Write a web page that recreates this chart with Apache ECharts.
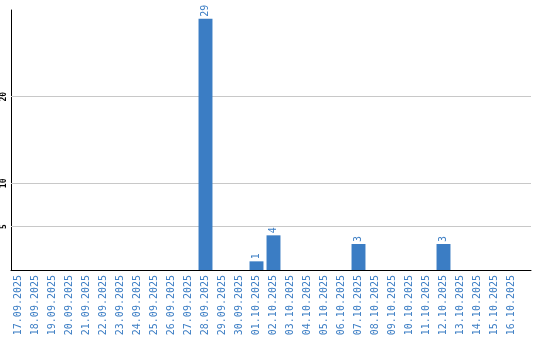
<!DOCTYPE html>
<html>
<head>
<meta charset="utf-8">
<script src="https://cdn.jsdelivr.net/npm/echarts@6/dist/echarts.min.js"></script>
<style>html,body{margin:0;padding:0;background:#fff}#c{width:540px;height:340px}</style>
</head>
<body>
<div id="c"></div>
<script>
const categories = ["17.09.2025","18.09.2025","19.09.2025","20.09.2025","21.09.2025","22.09.2025","23.09.2025","24.09.2025","25.09.2025","26.09.2025","27.09.2025","28.09.2025","29.09.2025","30.09.2025","01.10.2025","02.10.2025","03.10.2025","04.10.2025","05.10.2025","06.10.2025","07.10.2025","08.10.2025","09.10.2025","10.10.2025","11.10.2025","12.10.2025","13.10.2025","14.10.2025","15.10.2025","16.10.2025"];
const values = [0,0,0,0,0,0,0,0,0,0,0,29,0,0,1,4,0,0,0,0,3,0,0,0,0,3,0,0,0,0];
const yTickLabels = [5,10,20];
const gridValues = [5,10,20];

const blue = '#3b7dc4';
const chart = echarts.init(document.getElementById('c'), null, {renderer:'canvas'});
chart.setOption({
  animation:false,
  grid:[
    {left:10, top:10, width:510, height:260},
    {left:10, top:10, width:521, height:260}
  ],
  xAxis:[
    {gridIndex:0, type:'category', data:categories,
     axisLine:{show:false}, axisTick:{show:false},
     axisLabel:{rotate:90, margin:5, fontSize:10, fontFamily:'DejaVu Sans Mono', color:blue, interval:0}},
    {gridIndex:1, type:'value', min:0, max:1,
     axisLine:{show:true, lineStyle:{color:'#000', width:1}}, axisTick:{show:false},
     axisLabel:{show:false}, splitLine:{show:false}}
  ],
  yAxis:[
    {gridIndex:0, type:'value', min:0, max:30, show:false, splitLine:{show:false}},
    {gridIndex:1, type:'value', min:0, max:30, interval:5,
     axisLine:{show:true, lineStyle:{color:'#000', width:1}}, axisTick:{show:false},
     splitLine:{show:false},
     axisLabel:{rotate:90, margin:3, fontSize:8, fontWeight:'bold', fontFamily:'DejaVu Sans Mono', color:'#000',
       formatter:v => yTickLabels.indexOf(v) >= 0 ? String(v) : ''}}
  ],
  series:[
    {type:'line', xAxisIndex:1, yAxisIndex:1, data:[[0,0]], showSymbol:false, lineStyle:{opacity:0}, silent:true, z:1,
     markLine:{silent:true, z:1, symbol:'none', label:{show:false}, animation:false,
       lineStyle:{color:'#c8c8c8', type:'solid', width:1},
       data:gridValues.map(v => ({yAxis:v}))}},
    {type:'bar', xAxisIndex:0, yAxisIndex:0, data:values, barCategoryGap:'18%', z:10,
     itemStyle:{color:blue},
     label:{show:true, position:'top', rotate:90, align:'left', verticalAlign:'middle', distance:2,
       fontSize:10, fontFamily:'DejaVu Sans Mono', color:blue,
       formatter:p => p.value ? String(p.value) : ''}}
  ]
});
</script>
</body>
</html>
